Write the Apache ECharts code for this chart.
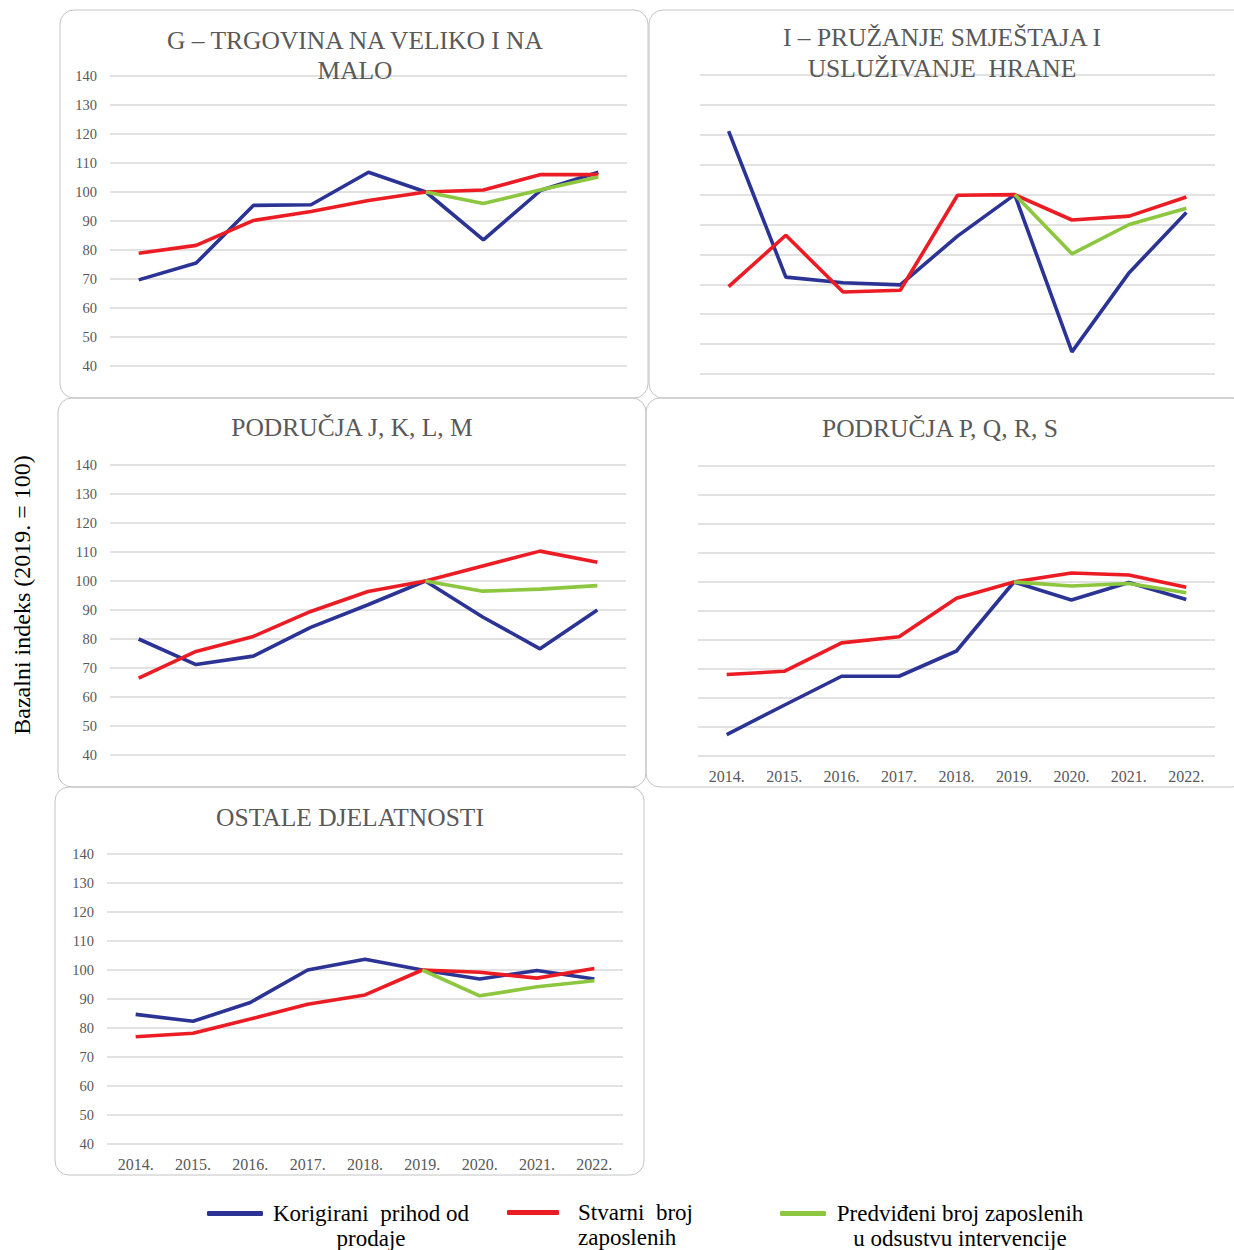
<!DOCTYPE html>
<html>
<head>
<meta charset="utf-8">
<script src="https://cdn.jsdelivr.net/npm/echarts@6/dist/echarts.min.js"></script>
<style>
html,body{margin:0;padding:0;background:#fff;}
#chart{width:1234px;height:1250px;}
</style>
</head>
<body>
<div id="chart"></div>
<script>
// ---- data ----
const years = ['2014.', '2015.', '2016.', '2017.', '2018.', '2019.', '2020.', '2021.', '2022.'];
const seriesNames = ['Korigirani  prihod od prodaje', 'Stvarni  broj zaposlenih', 'Predviđeni broj zaposlenih u odsustvu intervencije'];
const panelTitles = [
  'G – TRGOVINA NA VELIKO I NA\nMALO',
  'I – PRUŽANJE SMJEŠTAJA I\nUSLUŽIVANJE  HRANE',
  'PODRUČJA J, K, L, M',
  'PODRUČJA P, Q, R, S',
  'OSTALE DJELATNOSTI'
];
const yMin = 40, yMax = 140, yStep = 10;
const yAxisTitle = 'Bazalni indeks (2019. = 100)';

const gBlue  = [69.7, 75.5, 95.4, 95.6, 106.8, 100, 83.5, 100.6, 106.8];
const gRed   = [78.9, 81.6, 90.2, 93.3, 97.1, 100, 100.7, 106, 106];
const gGreen = [null, null, null, null, null, 100, 96, 100.8, 105.2];

const iBlue  = [121.2, 72.4, 70.5, 69.8, 86.1, 100, 47.4, 73.9, 94];
const iRed   = [69.2, 86.4, 67.4, 68, 99.8, 100, 91.5, 92.8, 99.2];
const iGreen = [null, null, null, null, null, 100, 80.2, 90, 95.4];

const jBlue  = [80, 71.2, 74.1, 84, 91.8, 100, 87.6, 76.6, 90];
const jRed   = [66.5, 75.7, 80.9, 89.5, 96.4, 100, 105.2, 110.3, 106.5];
const jGreen = [null, null, null, null, null, 100, 96.5, 97.2, 98.4];

const pBlue  = [47.4, 57.5, 67.5, 67.5, 76.2, 100, 93.8, 99.8, 94];
const pRed   = [68.1, 69.2, 79, 81.1, 94.4, 100, 103.1, 102.4, 98.2];
const pGreen = [null, null, null, null, null, 100, 98.6, 99.5, 96.3];

const oBlue  = [84.7, 82.3, 88.8, 100, 103.7, 100, 96.9, 99.8, 96.9];
const oRed   = [77, 78.2, 83.1, 88.2, 91.4, 100, 99.2, 97.2, 100.5];
const oGreen = [null, null, null, null, null, 100, 91.1, 94.2, 96.3];

const panelData = [
  [gBlue, gRed, gGreen],
  [iBlue, iRed, iGreen],
  [jBlue, jRed, jGreen],
  [pBlue, pRed, pGreen],
  [oBlue, oRed, oGreen]
];

// ---- styling / layout ----
const SERIF = "'Liberation Serif', 'Times New Roman', serif";
const colors = ['#2B3494', '#EC1C24', '#8DC63F'];
const grids = [
  {left: 110, top: 76, width: 517, height: 290},
  {left: 700, top: 75, width: 515, height: 299},
  {left: 110, top: 465, width: 516, height: 290},
  {left: 698, top: 466, width: 517, height: 290},
  {left: 107, top: 854, width: 516, height: 290}
];
const showY = [true, false, true, false, true];
const showX = [false, false, false, true, true];
const titlePos = [
  {x: 355, y: 25, lh: 30},
  {x: 942, y: 22, lh: 31},
  {x: 352, y: 412, lh: 30},
  {x: 940, y: 413, lh: 30},
  {x: 350, y: 802, lh: 30}
];
const boxes = [
  {x: 60, y: 10, w: 588, h: 388},
  {x: 649, y: 10, w: 600, h: 388},
  {x: 58, y: 398, w: 588, h: 389},
  {x: 646, y: 398, w: 600, h: 389},
  {x: 55, y: 787, w: 589, h: 388}
];

const xAxes = [], yAxes = [], series = [], titles = [], graphics = [];
grids.forEach((g, i) => {
  xAxes.push({
    type: 'category', gridIndex: i, data: years, boundaryGap: true,
    axisLine: {show: false}, axisTick: {show: false},
    axisLabel: {show: showX[i], color: '#595959', fontFamily: SERIF, fontSize: 16, margin: 12}
  });
  yAxes.push({
    type: 'value', gridIndex: i, min: yMin, max: yMax, interval: yStep,
    axisLine: {show: false}, axisTick: {show: false},
    axisLabel: {show: showY[i], color: '#595959', fontFamily: SERIF, fontSize: 14.5, margin: 13},
    splitLine: {lineStyle: {color: '#d9d9d9', width: 1.5}}
  });
  panelData[i].forEach((arr, k) => {
    series.push({
      type: 'line', name: seriesNames[k], xAxisIndex: i, yAxisIndex: i,
      data: arr, symbol: 'none', smooth: false, connectNulls: false,
      lineStyle: {color: colors[k], width: 3.6}, itemStyle: {color: colors[k]},
      z: 2 + k
    });
  });
  titles.push({
    text: panelTitles[i], left: titlePos[i].x, top: titlePos[i].y, textAlign: 'center', padding: 0,
    textStyle: {fontFamily: SERIF, fontSize: 25.5, fontWeight: 'normal', color: '#595959', lineHeight: titlePos[i].lh}
  });
  graphics.push({
    type: 'rect', silent: true, z: -10,
    shape: {x: boxes[i].x, y: boxes[i].y, width: boxes[i].w, height: boxes[i].h, r: 14},
    style: {fill: 'none', stroke: '#c4c4c4', lineWidth: 1}
  });
});

graphics.push({
  type: 'text', x: 22, y: 595, rotation: Math.PI / 2,
  style: {text: yAxisTitle, fontFamily: SERIF, fontSize: 24, fill: '#000', align: 'center', verticalAlign: 'middle'}
});

const LF = 23, LH = 25;
const legendText = {fontFamily: SERIF, fontSize: LF, color: '#000'};
const legends = [
  {
    left: 207, top: 1177, padding: 0, itemWidth: 56, itemHeight: 5, icon: 'roundRect',
    data: [seriesNames[0]], selectedMode: false,
    formatter: () => '{s| }\n{a|Korigirani  prihod od}\n{a|prodaje}',
    textStyle: Object.assign({}, legendText, {rich: {
      s: {fontFamily: SERIF, fontSize: LF, lineHeight: LH},
      a: {fontFamily: SERIF, fontSize: LF, lineHeight: LH, width: 206, align: 'center', color: '#000'}
    }})
  },
  {
    left: 507, top: 1176, padding: 0, itemWidth: 52, itemHeight: 5, icon: 'roundRect',
    data: [seriesNames[1]], selectedMode: false,
    formatter: () => '{s| }\n{a|Stvarni  broj}\n{a|zaposlenih}',
    textStyle: Object.assign({}, legendText, {rich: {
      s: {fontFamily: SERIF, fontSize: LF, lineHeight: LH},
      a: {fontFamily: SERIF, fontSize: LF, lineHeight: LH, padding: [0, 0, 0, 14], color: '#000'}
    }})
  },
  {
    left: 780, top: 1177, padding: 0, itemWidth: 46, itemHeight: 5, icon: 'roundRect',
    data: [seriesNames[2]], selectedMode: false,
    formatter: () => '{s| }\n{a|Predviđeni broj zaposlenih}\n{a|u odsustvu intervencije}',
    textStyle: Object.assign({}, legendText, {rich: {
      s: {fontFamily: SERIF, fontSize: LF, lineHeight: LH},
      a: {fontFamily: SERIF, fontSize: LF, lineHeight: LH, width: 258, align: 'center', color: '#000'}
    }})
  }
];

const chart = echarts.init(document.getElementById('chart'), null, {renderer: 'svg'});
chart.setOption({
  backgroundColor: '#fff',
  animation: false,
  title: titles,
  legend: legends,
  grid: grids,
  xAxis: xAxes,
  yAxis: yAxes,
  series: series,
  graphic: graphics
});
</script>
</body>
</html>
